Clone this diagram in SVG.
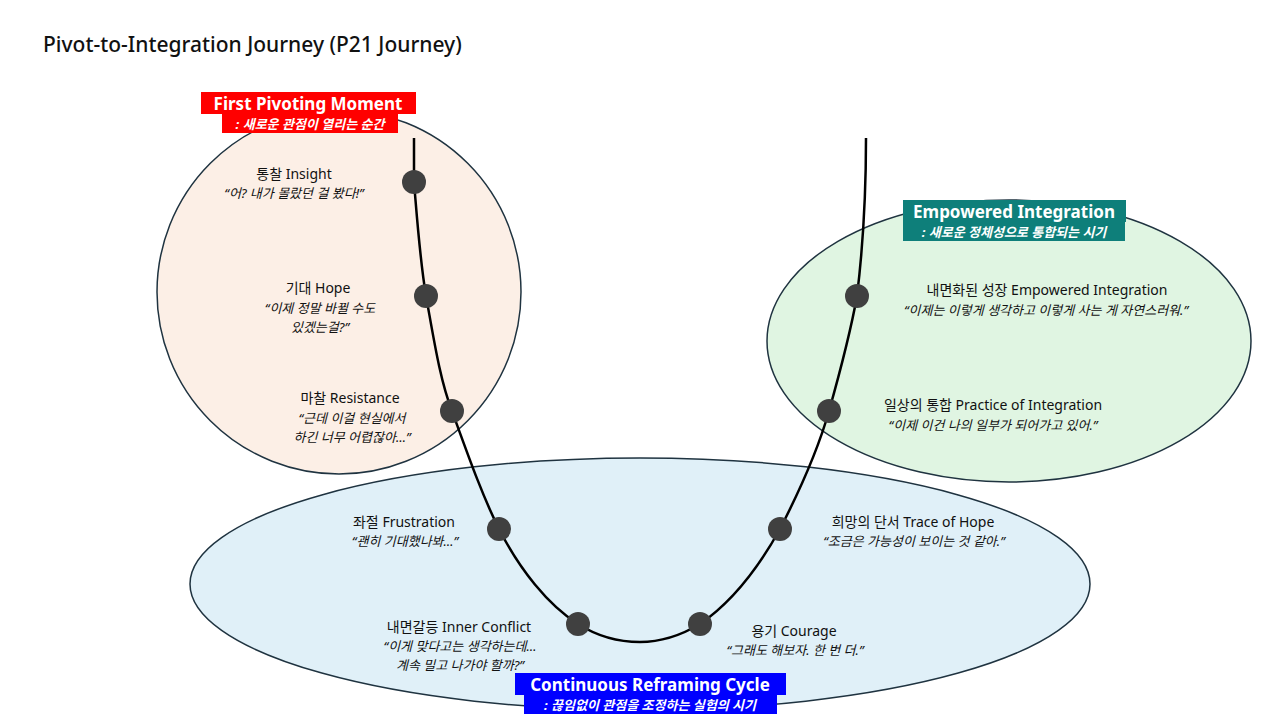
<svg xmlns="http://www.w3.org/2000/svg" width="1280" height="720" viewBox="0 0 1280 720">
<style>
text{font-family:"Noto Sans","Noto Sans CJK KR",sans-serif;fill:#111}
.t{font-size:14px;text-anchor:middle}
.q{font-size:13px;font-style:italic;text-anchor:middle}
.h{font-size:17px;font-weight:bold;fill:#fff;text-anchor:middle}
.s{font-size:13px;font-weight:bold;font-style:italic;fill:#fff;text-anchor:middle}
.dot{fill:#404040}
.zone{stroke:#1f3340;stroke-width:1.5}
</style>
<rect width="1280" height="720" fill="#fff"/>
<text x="43" y="52" style="font-size:21px;font-weight:500">Pivot-to-Integration Journey (P21 Journey)</text>
<g id="zones">
<ellipse class="zone" cx="339" cy="292" rx="182" ry="182" fill="#fcefe6"/>
<ellipse class="zone" cx="1009" cy="341" rx="242" ry="141" fill="#e0f5e2"/>
<ellipse class="zone" cx="640" cy="584" rx="450" ry="126" fill="#e0f0f8"/>
</g>
<g id="connectors">
<path d="M414,138 L414,182 C418,230 420,260 426,296 C434,340 440,380 452,411 C468,455 482,495 499,529 C520,570 548,605 578,624 C600,638 620,642 640,642 C660,642 680,636 700,624 C735,600 760,565 780,529 C800,490 818,450 829,411 C840,372 850,335 857,296 C862,255 866,200 866,138" fill="none" stroke="#000" stroke-width="2.5"/>
</g>
<g id="labels">
<rect x="201" y="92" width="215" height="22" fill="#f00"/>
<text class="h" x="308" y="110">First Pivoting Moment</text>
<rect x="222" y="114" width="176" height="19" fill="#f00"/>
<text class="s" x="310" y="129">: 새로운 관점이 열리는 순간</text>
<rect x="903" y="200" width="223" height="22" fill="#0e7f7a"/>
<text class="h" x="1014" y="218">Empowered Integration</text>
<rect x="903" y="222" width="222" height="19" fill="#0e7f7a"/>
<text class="s" x="1014" y="237">: 새로운 정체성으로 통합되는 시기</text>
<rect x="515" y="673" width="271" height="22" fill="#00f"/>
<text class="h" x="650" y="691">Continuous Reframing Cycle</text>
<rect x="524" y="695" width="253" height="19" fill="#00f"/>
<text class="s" x="650" y="710">: 끊임없이 관점을 조정하는 실험의 시기</text>
</g>
<g id="n1"><circle class="dot" cx="414" cy="182" r="12"/><text class="t" x="294" y="179">통찰 Insight</text><text class="q" x="294" y="198">“어? 내가 몰랐던 걸 봤다!”</text></g>
<g id="n2"><circle class="dot" cx="426" cy="296" r="12"/><text class="t" x="318" y="293">기대 Hope</text><text class="q" x="320" y="313">“이제 정말 바뀔 수도</text><text class="q" x="320" y="332">있겠는걸?”</text></g>
<g id="n3"><circle class="dot" cx="452" cy="411" r="12"/><text class="t" x="350" y="403">마찰 Resistance</text><text class="q" x="352" y="423">“근데 이걸 현실에서</text><text class="q" x="352" y="442">하긴 너무 어렵잖아…”</text></g>
<g id="n4"><circle class="dot" cx="499" cy="529" r="12"/><text class="t" x="404" y="527">좌절 Frustration</text><text class="q" x="405" y="546">“괜히 기대했나봐…”</text></g>
<g id="n5"><circle class="dot" cx="578" cy="624" r="12"/><text class="t" x="459" y="632">내면갈등 Inner Conflict</text><text class="q" x="460" y="651">“이게 맞다고는 생각하는데…</text><text class="q" x="460" y="670">계속 밀고 나가야 할까?”</text></g>
<g id="n6"><circle class="dot" cx="700" cy="624" r="12"/><text class="t" x="794" y="636">용기 Courage</text><text class="q" x="795" y="655">“그래도 해보자. 한 번 더.”</text></g>
<g id="n7"><circle class="dot" cx="780" cy="529" r="12"/><text class="t" x="913" y="527">희망의 단서 Trace of Hope</text><text class="q" x="914" y="546">“조금은 가능성이 보이는 것 같아.”</text></g>
<g id="n8"><circle class="dot" cx="829" cy="411" r="12"/><text class="t" x="993" y="410">일상의 통합 Practice of Integration</text><text class="q" x="993" y="430">“이제 이건 나의 일부가 되어가고 있어.”</text></g>
<g id="n9"><circle class="dot" cx="857" cy="296" r="12"/><text class="t" x="1047" y="295">내면화된 성장 Empowered Integration</text><text class="q" x="1046" y="315">“이제는 이렇게 생각하고 이렇게 사는 게 자연스러워.”</text></g>
</svg>
